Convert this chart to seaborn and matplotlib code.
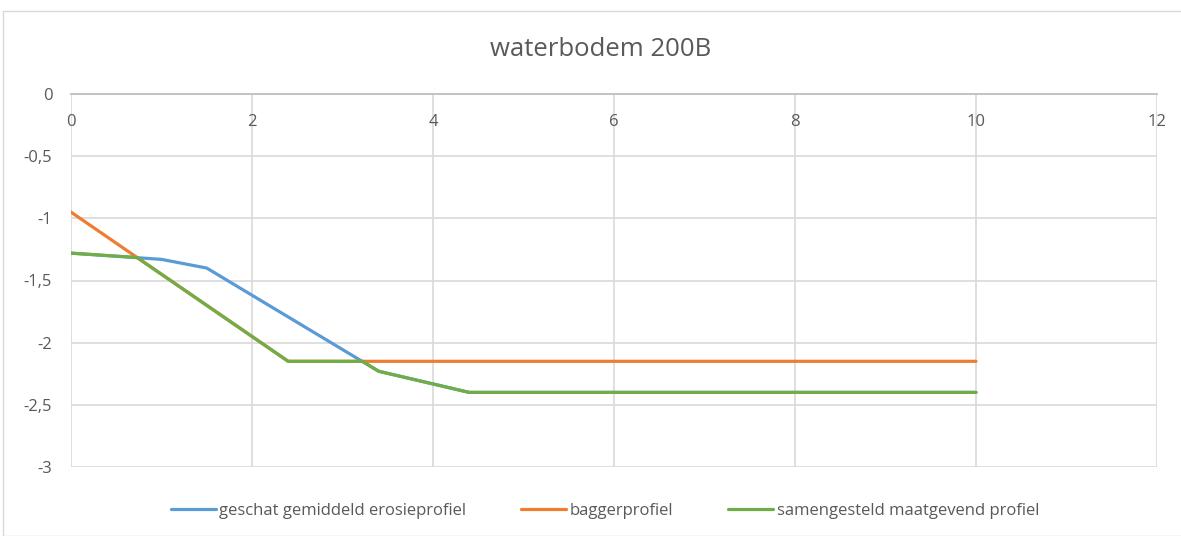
import matplotlib.pyplot as plt
import seaborn as sns
import pandas as pd
from matplotlib.ticker import FuncFormatter, MultipleLocator
from matplotlib.patches import Rectangle

# data
erosie_x = [0, 1.0, 1.5, 3.4, 4.4, 10]
erosie_y = [-1.28, -1.33, -1.40, -2.23, -2.40, -2.40]
bagger_x = [0, 2.4, 10]
bagger_y = [-0.95, -2.15, -2.15]
samen_x = [0, 0.73, 2.4, 3.22, 3.4, 4.4, 10]
samen_y = [-1.28, -1.315, -2.15, -2.15, -2.23, -2.40, -2.40]

labels = ["geschat gemiddeld erosieprofiel", "baggerprofiel", "samengesteld maatgevend profiel"]
colors = ["#5B9BD5", "#ED7D31", "#70AD47"]

df = pd.concat([
    pd.DataFrame({"x": erosie_x, "y": erosie_y, "profiel": labels[0]}),
    pd.DataFrame({"x": bagger_x, "y": bagger_y, "profiel": labels[1]}),
    pd.DataFrame({"x": samen_x, "y": samen_y, "profiel": labels[2]}),
])

sns.set_theme(style="white")
plt.rcParams['font.family'] = ['Open Sans', 'DejaVu Sans']
txt = "#595959"

fig = plt.figure(figsize=(11.81, 5.36), dpi=100)
ax = fig.add_axes([71 / 1181, 69 / 536, 1086 / 1181, 373 / 536])

sns.lineplot(data=df, x="x", y="y", hue="profiel", palette=colors,
             linewidth=2.3, estimator=None, sort=False, ax=ax)

ax.set_xlim(0, 12)
ax.set_ylim(-3, 0)
ax.xaxis.set_major_locator(MultipleLocator(2))
ax.yaxis.set_major_locator(MultipleLocator(0.5))
ax.yaxis.set_major_formatter(FuncFormatter(lambda v, p: f"{v:g}".replace(".", ",")))
ax.grid(True, color="#D9D9D9", linewidth=1.2)
ax.set_axisbelow(True)

for s in ["bottom", "right", "left"]:
    ax.spines[s].set_visible(False)
ax.spines["top"].set_color("#BFBFBF")
ax.spines["top"].set_linewidth(1.3)

# x labels sit just under the zero line, like Excel does it
ax.tick_params(axis="x", top=False, bottom=False, labeltop=True, labelbottom=False,
               pad=-32, labelsize=12, labelcolor=txt)
ax.tick_params(axis="y", left=False, pad=7.5, labelsize=12, labelcolor=txt)
ax.set_xlabel("")
ax.set_ylabel("")

fig.text(601 / 1181, 1 - 50 / 536, "waterbodem 200B", ha="center", va="center",
         fontsize=18.5, color=txt)

ax.legend_.remove()
handles, lbls = ax.get_legend_handles_labels()
leg = fig.legend(handles, lbls, loc="center", bbox_to_anchor=(605 / 1181, 1 - 511 / 536),
                 ncol=3, frameon=False, fontsize=12, handlelength=2.7,
                 handletextpad=0.2, columnspacing=3.3)
for t in leg.get_texts():
    t.set_color(txt)

# outer chart border
fig.patches.append(Rectangle((3 / 1181, 0), 1.0, 1 - 11 / 536, transform=fig.transFigure,
                             fill=False, edgecolor="#D9D9D9", linewidth=1))

fig.savefig("out.png", dpi=100)
